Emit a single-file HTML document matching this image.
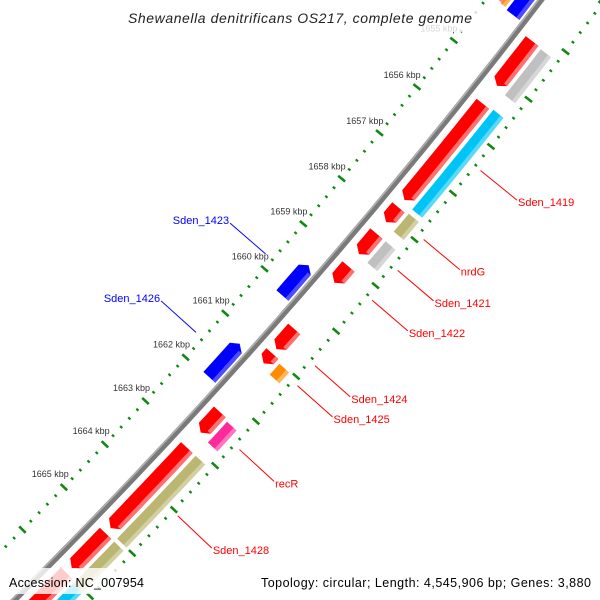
<!DOCTYPE html>
<html><head><meta charset="utf-8"><style>
html,body{margin:0;padding:0;background:#fff;width:600px;height:600px;overflow:hidden}
svg{display:block;overflow:hidden}
</style></head><body>
<svg id="map" width="600" height="600" viewBox="0 0 600 600" xmlns="http://www.w3.org/2000/svg" font-family="Liberation Sans, sans-serif">
<defs><clipPath id="frame"><rect x="0" y="0" width="600" height="600"/></clipPath></defs>
<g clip-path="url(#frame)">
<g id="ticks"></g>
<g id="backbone"></g>
<g id="features"></g>
<g id="labels"></g>
</g>
<rect x="122" y="4" width="358" height="28" fill="#fff" fill-opacity="0.8"/>
<text x="300" y="23" text-anchor="middle" font-size="14" font-style="italic" fill="#222" textLength="344">Shewanella denitrificans OS217, complete genome</text>
<rect x="4" y="568" width="148" height="26" fill="#fff" fill-opacity="0.8"/>
<text x="9" y="587" font-size="12.5" fill="#000" textLength="135">Accession: NC_007954</text>
<rect x="255" y="568" width="342" height="26" fill="#fff" fill-opacity="0.8"/>
<text x="591" y="587" text-anchor="end" font-size="12.5" fill="#000" textLength="330">Topology: circular; Length: 4,545,906 bp; Genes: 3,880</text>
</svg>
<script>
// ---- data ----
const tickStart = 1652.8, tickEnd = 1667.2, tickStep = 0.2;
const tickLabels = [1655,1656,1657,1658,1659,1660,1661,1662,1663,1664,1665];
// reverse-track genes (red, outer) : start kbp, end kbp
const redNames  = ["Sden_1418","Sden_1419","nrdG","Sden_1421","Sden_1422","Sden_1424","Sden_1425","recR","Sden_1428","Sden_1429","Sden_1430"];
const redStart  = [1654.2,1655.53,1657.76,1658.33,1659.05,1660.43,1660.98,1662.29,1663.10,1665.07,1666.0];
const redEnd    = [1655.15,1657.6,1658.08,1658.78,1659.41,1660.88,1661.2,1662.76,1664.95,1665.88,1667.2];
// COG track (outer)
const cogStart  = [1654.22,1655.5,1657.73,1658.33,1661.03,1662.33,1663.10,1665.07,1666.05];
const cogEnd    = [1655.19,1657.64,1658.12,1658.8,1661.27,1662.8,1665.0,1666.05,1667.2];
const cogColor  = ["#c0c0c0","#00c4f5","#bbb672","#c0c0c0","#ff8c00","#ff2a9a","#bbb672","#bbb672","#00c4f5"];
// forward-track genes (blue, inner)
const blueNames = ["Sden_1417","Sden_1423","Sden_1426"];
const blueStart = [1652.5,1659.47,1661.22];
const blueEnd   = [1654.05,1660.14,1661.98];
// labelled genes
const outerLabels = ["Sden_1419","nrdG","Sden_1421","Sden_1422","Sden_1424","Sden_1425","recR","Sden_1428"];
const outerLabelPos = [1656.42,1657.9,1658.57,1659.22,1660.66,1661.1,1662.53,1664.03];
const innerLabels = ["Sden_1423","Sden_1426"];
const innerLabelPos = [1659.8,1661.57];

// ---- geometry (circle arc) ----
const CX=-4150, CY=-3585, A0=41.12, K0=1660, DA=0.58;
function pt(k,r){const a=(A0+(k-K0)*DA)*Math.PI/180;return [CX+r*Math.cos(a),CY+r*Math.sin(a)];}
const NS="http://www.w3.org/2000/svg";
function mk(tag,attrs,parent){const e=document.createElementNS(NS,tag);for(const k in attrs)e.setAttribute(k,attrs[k]);parent.appendChild(e);return e;}
function arcPts(k1,k2,r){const n=Math.max(2,Math.ceil(Math.abs(k2-k1)*4));const p=[];for(let i=0;i<=n;i++)p.push(pt(k1+(k2-k1)*i/n,r));return p;}
function poly(pts){return pts.map(p=>p[0].toFixed(1)+","+p[1].toFixed(1)).join(" ");}

const gT=document.getElementById('ticks'),gB=document.getElementById('backbone'),gF=document.getElementById('features'),gL=document.getElementById('labels');

// ruler ticks (inner and outer)
[5860,5955].forEach((R,ri)=>{
  for(let k=tickStart;k<=tickEnd+1e-6;k+=tickStep){
    const major=Math.abs(k-Math.round(k))<1e-6;
    const h=major?4.5:1.5;
    const a=pt(k,R-h),b=pt(k,R+h);
    const ln=mk('line',{x1:a[0],y1:a[1],x2:b[0],y2:b[1],stroke:'#118811','stroke-width':major?2.6:2.2},gT);
    
    
  }
});
tickLabels.forEach(k=>{
  const p=pt(k,5841);
  const t=mk('text',{x:p[0],y:p[1]+3,'text-anchor':'middle','font-size':9,fill:'#333'},gT);
  t.textContent=k+' kbp';
  
  
});

// backbone
{
  const p=arcPts(1652,1668,5904);
  const l1=mk('polyline',{points:poly(p),fill:'none',stroke:'#7a7a7a','stroke-width':6},gB);
  
  
  const p2=arcPts(1652,1668,5902);
  const l2=mk('polyline',{points:poly(p2),fill:'none',stroke:'#b0b0b0','stroke-width':1.5},gB);
  
  
}

function feature(s,e,r1,r2,dir,fill,light,name){
  const a=0.1;let pts;
  if(dir>0){const ee=Math.max(s,e-a);pts=[...arcPts(s,ee,r1),pt(e,(r1+r2)/2),...arcPts(ee,s,r2)];}
  else if(dir<0){const ss=Math.min(e,s+a);pts=[pt(s,(r1+r2)/2),...arcPts(ss,e,r1),...arcPts(e,ss,r2)];}
  else{pts=[...arcPts(s,e,r1),...arcPts(e,s,r2)];}
  const g=mk('g',{},gF);
  
  
  mk('polygon',{points:poly(pts),fill:fill},g);
  const hs=dir<0?Math.min(e,s+0.1):s, he=dir>0?Math.max(s,e-0.1):e;
  const hp=[...arcPts(hs,he,r2-4),...arcPts(he,hs,r2)];
  mk('polygon',{points:poly(hp),fill:light},g);
}
redStart.forEach((s,i)=>feature(s,redEnd[i],5914,5930,1,'#ff0000','#ff7070','gene-'+redNames[i]));
cogStart.forEach((s,i)=>feature(s,cogEnd[i],5934,5947,0,cogColor[i],'rgba(255,255,255,0.35)','cog-'+i));
blueStart.forEach((s,i)=>feature(s,blueEnd[i],5883,5899,-1,'#0000ff','#4d4dff','gene-'+blueNames[i]));
feature(1653.5,1654.0,5866,5874,0,'#ff2a9a','#ff80c0','cog-inner-a');
feature(1653.6,1654.02,5874,5880,0,'#ff8c00','#ffb060','cog-inner-b');

// labels
outerLabels.forEach((n,i)=>{
  const a=pt(outerLabelPos[i],5962),b=pt(outerLabelPos[i],6009);
  const l=mk('line',{x1:a[0],y1:a[1],x2:b[0],y2:b[1],stroke:'#ff0000','stroke-width':1},gL);
  
  
  const t=mk('text',{x:b[0]+1,y:b[1]+6,'font-size':11,fill:'#ff0000'},gL);
  t.textContent=n;
  
  
});
innerLabels.forEach((n,i)=>{
  const a=pt(innerLabelPos[i],5851),b=pt(innerLabelPos[i],5804);
  const l=mk('line',{x1:a[0],y1:a[1],x2:b[0],y2:b[1],stroke:'#0000ff','stroke-width':1},gL);
  
  
  const t=mk('text',{x:b[0]-1,y:b[1]+1,'text-anchor':'end','font-size':11,fill:'#0000ff'},gL);
  t.textContent=n;
  
  
});
</script>
</body></html>
